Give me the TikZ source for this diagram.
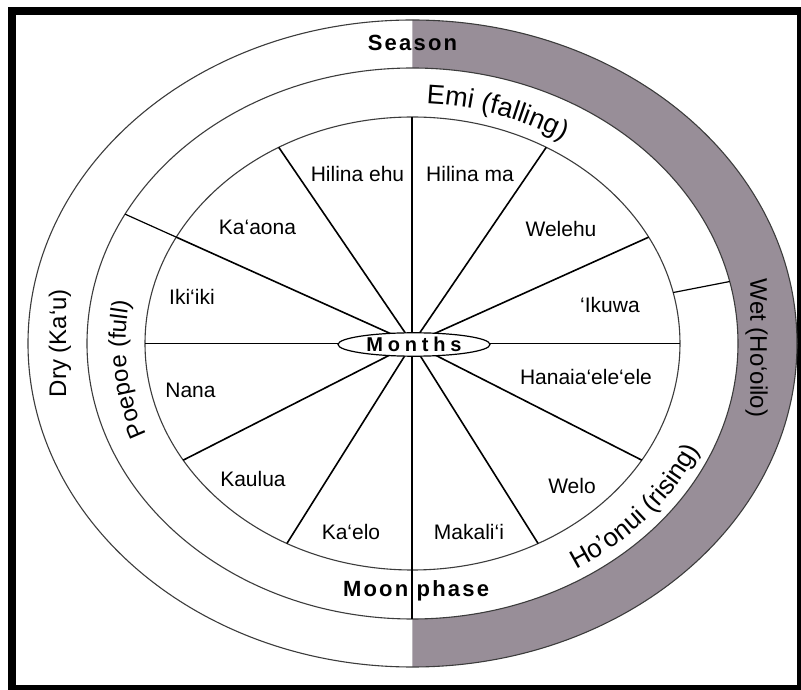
\documentclass[tikz,border=0pt]{standalone}
\usepackage{fontspec}
\setmainfont{Liberation Sans}
\newfontfamily\titlefont[LetterSpace=10]{Liberation Sans}
\newfontfamily\centrefont[LetterSpace=24]{Liberation Sans}
\usetikzlibrary{shapes.geometric, decorations.text}
\definecolor{wetgray}{RGB}{152,142,152}
\definecolor{ringline}{RGB}{60,60,60}

\begin{document}
\begin{tikzpicture}[x=1pt, y=1pt,
  month/.style={font=\fontsize{21}{25}\selectfont, inner sep=0pt},
  phase/.style={font=\fontsize{24}{28}\selectfont, inner sep=0pt},
  title/.style={font=\titlefont\bfseries\fontsize{22}{26}\selectfont, inner sep=0pt},
  ring/.style={draw=ringline, line width=1.1pt},
  spoke/.style={line width=1.6pt}]
  \useasboundingbox (-412.5,-346.5) rectangle (388.5,343.5);

  % frame
  \fill (-404.5,336.5) rectangle (388.5,328.5);
  \fill (-404.5,336.5) rectangle (-396.5,-346.5);
  \fill (-404.5,-341.5) rectangle (388.5,-346.5);
  \fill (384.5,336.5) rectangle (388.5,-346.5);

  % season ring, wet half shaded
  \fill[white] (0,0) ellipse[x radius=384.5pt, y radius=323.5pt];
  \fill[wetgray] (90:384.5pt and 323.5pt)
    arc[start angle=90, end angle=-90, x radius=384.5pt, y radius=323.5pt]
    -- (-90:325.5pt and 275.5pt)
    arc[start angle=-90, end angle=90, x radius=325.5pt, y radius=275.5pt] -- cycle;
  \draw[ring] (0,0) ellipse[x radius=384.5pt, y radius=323.5pt];
  \draw[ring] (0,0) ellipse[x radius=325.5pt, y radius=275.5pt];
  \draw[ring] (0,0) ellipse[x radius=267.5pt, y radius=226.5pt];

  % month spokes
  \coordinate (c) at (0,0);
  \foreach \a in {0,28,60,90,120,152,180,211,242,270,298,329}
    \coordinate (s\a) at (\a:267.5pt and 226.5pt);
  \foreach \a in {0,28,60,120,152,180,211,242,298,329}
    \draw[spoke] (c) -- (s\a);
  \draw[line width=2pt] (s90) -- (s270);

  % moon phase dividers
  \coordinate (d13) at (13:267.5pt and 226.5pt);
  \coordinate (m13) at (13:325.5pt and 275.5pt);
  \coordinate (m152) at (152:325.5pt and 275.5pt);
  \coordinate (m270) at (270:325.5pt and 275.5pt);
  \draw[line width=1.2pt] (d13) -- (m13);
  \draw[line width=1.2pt] (s152) -- (m152);
  \draw[line width=2pt] (s270) -- (m270);

  \node[ellipse, draw, fill=white, line width=1.2pt, minimum width=152pt,
    minimum height=23.4pt, inner sep=0pt,
    font=\centrefont\bfseries\fontsize{20}{24}\selectfont] (months) at (1.5,-1) {Months};

  % months
  \node[month] (hilinaehu) at (-55,169.5) {Hilina ehu};
  \node[month] (hilinama) at (57.5,169.5) {Hilina ma};
  \node[month] (welehu) at (148.5,114.5) {Welehu};
  \node[month] (ikuwa) at (197.5,38.5) {‘Ikuwa};
  \node[month] (hanaia) at (173.5,-33.5) {Hanaia‘ele‘ele};
  \node[month] (welo) at (159.5,-142) {Welo};
  \node[month] (makalii) at (56.5,-188.5) {Makali‘i};
  \node[month] (kaelo) at (-61.5,-188.5) {Ka‘elo};
  \node[month] (kaulua) at (-159.5,-135) {Kaulua};
  \node[month] (nana) at (-222,-46.5) {Nana};
  \node[month] (ikiiki) at (-220.5,46.5) {Iki‘iki};
  \node[month] (kaaona) at (-155,116) {Ka‘aona};

  % moon phase ring
  \path[decorate, decoration={text along path, text align=center,
    text={|\fontsize{27}{32}\selectfont|Emi (falling)}}]
    (88:283pt and 240pt) arc[start angle=88, end angle=57, x radius=283pt, y radius=240pt];
  \path[decorate, decoration={text along path, text align=center,
    text={|\fontsize{24}{28}\selectfont|Poepoe (full)}}]
    (203:287pt and 243pt) arc[start angle=203, end angle=169, x radius=287pt, y radius=243pt];
  \path[decorate, decoration={text along path, text align=center,
    text={|\fontsize{26}{30}\selectfont|Ho’onui (rising)}}]
    (-59:313pt and 265pt) arc[start angle=-59, end angle=-23, x radius=313pt, y radius=265pt];
  \node[title, anchor=base east] (moon) at (-4,-253.5) {Moon};
  \node[title, anchor=base west] (phase) at (4,-253.5) {phase};

  % season ring
  \node[title] (season) at (0,300.5) {Season};
  \node[phase, rotate=90] (dry) at (-352.5,0.5) {Dry (Ka‘u)};
  \node[phase, rotate=-90] (wet) at (344,-4.5) {Wet (Ho‘oilo)};
\end{tikzpicture}
\end{document}
